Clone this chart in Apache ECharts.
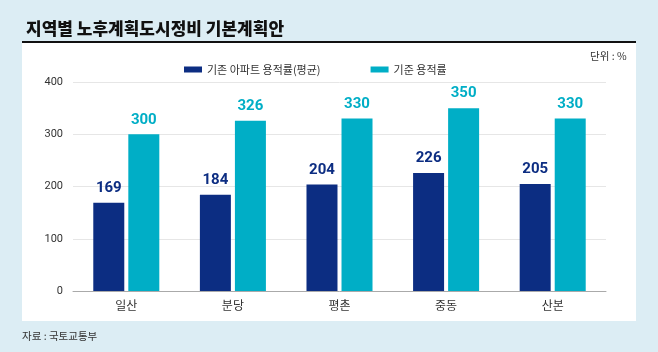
<!DOCTYPE html>
<html>
<head>
<meta charset="utf-8">
<script src="https://cdn.jsdelivr.net/npm/echarts@6/dist/echarts.min.js"></script>
<style>
  html, body { margin: 0; padding: 0; background: #dcedf4; }
  #chart { width: 658px; height: 352px; }
</style>
</head>
<body>
<div id="chart"></div>
<script>
  var regions = ["일산", "분당", "평촌", "중동", "산본"];
  var existing = [169, 184, 204, 226, 205];
  var standard = [300, 326, 330, 350, 330];
  var yTicks = [0, 100, 200, 300, 400];

  var navy = "#0c2d82";
  var cyan = "#00aec6";
  var font = "'Noto Sans CJK KR', 'Noto Sans', sans-serif";

  var myChart = echarts.init(document.getElementById("chart"));
  var option = {
    backgroundColor: "#dcedf4",
    textStyle: { fontFamily: font },
    title: {
      text: "지역별 노후계획도시정비 기본계획안",
      left: 21,
      top: 15,
      textStyle: { fontSize: 17, fontWeight: 900, color: "#111", fontFamily: font }
    },
    graphic: [
      { type: "rect", shape: { x: 22, y: 43, width: 614, height: 278 }, style: { fill: "#fff" }, z: -10 },
      { type: "rect", shape: { x: 22, y: 41, width: 614, height: 2 }, style: { fill: "#111" }, z: 1 },
      { type: "text", left: 590, top: 51, style: { text: "단위 : %", fontSize: 10.5, fill: "#333", fontFamily: font } },
      { type: "text", left: 22, top: 331, style: { text: "자료 : 국토교통부", fontSize: 10.5, fill: "#333", fontFamily: font } }
    ],
    legend: {
      top: 59,
      left: 179,
      itemWidth: 18,
      itemHeight: 6,
      itemGap: 50,
      icon: "rect",
      textStyle: { fontSize: 11, color: "#333", fontFamily: font },
      data: ["기존 아파트 용적률(평균)", "기준 용적률"]
    },
    grid: { left: 73, right: 52, top: 82, bottom: 61, containLabel: false },
    xAxis: {
      type: "category",
      data: regions,
      axisTick: { show: false },
      axisLine: { lineStyle: { color: "#aaa" } },
      axisLabel: { fontSize: 12, color: "#333", margin: 8, fontFamily: font }
    },
    yAxis: {
      type: "value",
      min: yTicks[0],
      max: yTicks[yTicks.length - 1],
      interval: 100,
      axisLine: { show: false },
      axisTick: { show: false },
      splitLine: { lineStyle: { color: "#e6e6e6" } },
      axisLabel: { fontSize: 11, color: "#333", margin: 10, fontFamily: "'Liberation Sans Narrow', 'Roboto', sans-serif" }
    },
    series: [
      {
        name: "기존 아파트 용적률(평균)",
        type: "bar",
        data: existing,
        barWidth: 31,
        barGap: "13%",
        itemStyle: { color: navy },
        label: { show: true, position: "top", distance: 7, color: navy, fontSize: 15, fontWeight: "bold", fontFamily: "'Roboto', sans-serif" }
      },
      {
        name: "기준 용적률",
        type: "bar",
        data: standard,
        barWidth: 31,
        itemStyle: { color: cyan },
        label: { show: true, position: "top", distance: 7, color: cyan, fontSize: 15, fontWeight: "bold", fontFamily: "'Roboto', sans-serif" }
      }
    ]
  };
  myChart.setOption(option);
</script>
</body>
</html>
